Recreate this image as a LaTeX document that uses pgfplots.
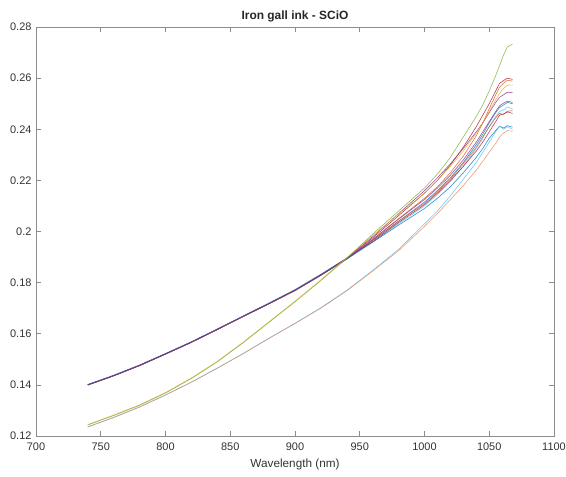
\documentclass[border=0pt]{standalone}
\usepackage{pgfplots}
\usepackage{pgfplotstable}
\pgfplotsset{compat=1.18}
\usepackage{fontspec}
\setmainfont{Liberation Sans}
\definecolor{mc1}{rgb}{0,0.447,0.741}
\definecolor{mc2}{rgb}{0.85,0.325,0.098}
\definecolor{mc3}{rgb}{0.929,0.694,0.125}
\definecolor{mc4}{rgb}{0.494,0.184,0.556}
\definecolor{mc5}{rgb}{0.466,0.674,0.188}
\definecolor{mc6}{rgb}{0.301,0.745,0.933}
\definecolor{mc7}{rgb}{0.635,0.078,0.184}
\definecolor{txt}{rgb}{0.2,0.2,0.2}
\pgfplotstableread{
wl   g      yb     s      lb     a1     a2     a3     a4     a5     a6     a7     a8     a9
740 .1243 .1245 .1235 .1236 .1400 .1401 .1399 .1400 .1402 .1399 .1401 .1400 .1400
760 .1280 .1282 .1272 .1273 .1436 .1437 .1435 .1436 .1438 .1435 .1437 .1436 .1436
780 .1320 .1322 .1313 .1314 .1476 .1477 .1475 .1476 .1478 .1475 .1477 .1476 .1476
800 .1368 .1370 .1360 .1361 .1521 .1522 .1520 .1521 .1523 .1520 .1522 .1521 .1521
820 .1425 .1427 .1410 .1411 .1567 .1568 .1566 .1567 .1569 .1566 .1568 .1567 .1567
840 .1490 .1492 .1465 .1466 .1617 .1618 .1616 .1617 .1619 .1616 .1618 .1617 .1617
860 .1565 .1567 .1522 .1523 .1668 .1669 .1667 .1668 .1670 .1667 .1669 .1668 .1668
880 .1645 .1647 .1582 .1583 .1718 .1720 .1717 .1718 .1721 .1717 .1719 .1718 .1718
900 .1725 .1727 .1640 .1641 .1770 .1772 .1769 .1770 .1773 .1768 .1771 .1770 .1770
920 .1808 .1811 .1700 .1702 .1830 .1832 .1829 .1830 .1833 .1828 .1831 .1829 .1830
940 .1895 .1898 .1768 .1770 .1895 .1896 .1894 .1893 .1896 .1892 .1895 .1892 .1894
960 .1990 .1985 .1845 .1848 .1975 .1980 .1970 .1965 .1960 .1965 .1960 .1958 .1968
980 .2080 .2068 .1925 .1930 .2062 .2070 .2050 .2040 .2030 .2040 .2035 .2025 .2048
1000 .2170 .2150 .2020 .2030 .2150 .2160 .2130 .2115 .2100 .2110 .2105 .2090 .2125
1010 .2225 .2200 .2070 .2080 .2200 .2210 .2175 .2160 .2145 .2155 .2150 .2130 .2170
1020 .2290 .2255 .2125 .2140 .2260 .2265 .2230 .2210 .2195 .2205 .2200 .2175 .2220
1030 .2370 .2315 .2180 .2205 .2330 .2325 .2295 .2270 .2255 .2265 .2255 .2230 .2280
1040 .2450 .2385 .2240 .2270 .2410 .2390 .2375 .2340 .2325 .2330 .2315 .2290 .2350
1045 .2495 .2425 .2275 .2310 .2455 .2425 .2425 .2380 .2365 .2370 .2350 .2325 .2390
1050 .2550 .2470 .2310 .2350 .2500 .2465 .2480 .2425 .2410 .2410 .2390 .2365 .2430
1055 .2610 .2515 .2345 .2390 .2550 .2505 .2535 .2465 .2450 .2445 .2430 .2395 .2470
1058 .2650 .2540 .2370 .2412 .2580 .2525 .2565 .2485 .2470 .2462 .2455 .2412 .2492
1061 .2690 .2560 .2385 .2400 .2590 .2535 .2580 .2495 .2475 .2458 .2460 .2405 .2502
1064 .2722 .2572 .2395 .2410 .2600 .2545 .2592 .2505 .2487 .2470 .2468 .2414 .2510
1068 .2733 .2573 .2392 .2400 .2595 .2543 .2588 .2500 .2480 .2473 .2462 .2408 .2505
}\spectra
\begin{document}
\begin{tikzpicture}
\begin{axis}[
  name=ax,
  scale only axis,
  width=518bp, height=409bp,
  xmin=700, xmax=1100, ymin=0.12, ymax=0.28,
  xtick={700,750,...,1100},
  ytick={0.12,0.14,...,0.281},
  scaled ticks=false,
  /pgf/number format/assume math mode=true,
  /pgf/number format/1000 sep={},
  yticklabel style={/pgf/number format/fixed,/pgf/number format/precision=2, font=\fontsize{11}{13}\selectfont, text=txt, xshift=-1bp},
  xticklabel style={font=\fontsize{11}{13}\selectfont, text=txt, yshift=-3bp},
  tick align=inside,
  major tick length=5bp,
  axis line style={black!45, line width=0.6pt},
  every tick/.style={black!45, line width=0.6pt},
  title={Iron gall ink - SCiO},
  title style={font=\bfseries\fontsize{12}{14}\selectfont, text=black!85, yshift=-5bp},
  xlabel={Wavelength (nm)},
  xlabel style={font=\fontsize{11.8}{14}\selectfont, text=txt, at={(axis description cs:0.5,0)}, anchor=north, yshift=-19bp},
  every axis plot/.append style={line width=0.6pt, opacity=0.8},
]
\addplot[mc7] table[x=wl,y=a1]{\spectra};
\addplot[mc4] table[x=wl,y=a2]{\spectra};
\addplot[mc2] table[x=wl,y=a3]{\spectra};
\addplot[mc1] table[x=wl,y=a4]{\spectra};
\addplot[mc6] table[x=wl,y=a5]{\spectra};
\addplot[mc2] table[x=wl,y=a6]{\spectra};
\addplot[mc7] table[x=wl,y=a7]{\spectra};
\addplot[mc1] table[x=wl,y=a8]{\spectra};
\addplot[mc4] table[x=wl,y=a9]{\spectra};
\addplot[mc3] table[x=wl,y=yb]{\spectra};
\addplot[mc5] table[x=wl,y=g]{\spectra};
\addplot[mc6] table[x=wl,y=lb]{\spectra};
\addplot[mc2!70] table[x=wl,y=s]{\spectra};
\end{axis}
\pgfresetboundingbox
\useasboundingbox (-36bp,-41bp) rectangle (530bp,436bp);
\end{tikzpicture}
\end{document}
